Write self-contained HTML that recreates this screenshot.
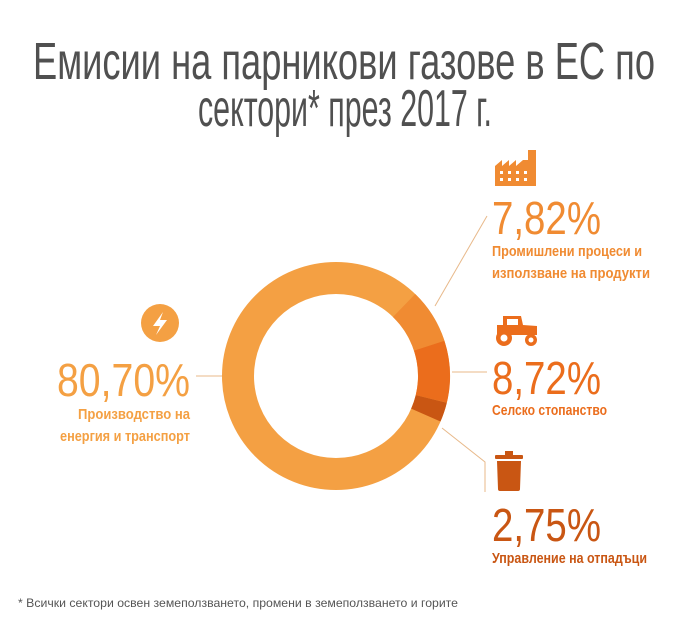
<!DOCTYPE html>
<html><head><meta charset="utf-8"><style>
html,body{margin:0;padding:0;background:#fff;}
svg{display:block;}
text{font-family:"Liberation Sans Narrow","Liberation Sans",sans-serif;}
.l{font-weight:bold;}
</style></head><body>
<svg width="692" height="630" viewBox="0 0 692 630" xmlns="http://www.w3.org/2000/svg">
<rect width="692" height="630" fill="#fff"/>
<text x="33" y="79" font-size="52" fill="#505050" textLength="622" lengthAdjust="spacingAndGlyphs">Емисии на парникови газове в ЕС по</text>
<text x="198" y="126" font-size="52" fill="#505050" textLength="294" lengthAdjust="spacingAndGlyphs">сектори* през 2017 г.</text>

<g fill="none" stroke-width="32" transform="translate(336,376)">
<circle r="98" stroke="#f4a043"/>
<path d="M 68.1 -70.5 A 98 98 0 0 1 93.2 -30.3" stroke="#f08b32"/>
<path d="M 93.2 -30.3 A 98 98 0 0 1 95.3 22.9" stroke="#eb6d1c"/>
<path d="M 95.3 22.9 A 98 98 0 0 1 89.8 39.1" stroke="#c95613"/>
</g>

<g stroke="#e8b98a" stroke-width="1" fill="none">
<line x1="196" y1="376" x2="222" y2="376"/>
<line x1="435" y1="306" x2="487" y2="216"/>
<line x1="452" y1="372" x2="487" y2="372"/>
<polyline points="442,428 485,462 485,492"/>
</g>

<circle cx="160" cy="323" r="19" fill="#f4a043"/>
<path d="M163 312 L153 326 L160 326 L156 335 L167 320 L160 320 Z" fill="#fff"/>
<text x="190" y="396" font-size="46" fill="#f4a043" text-anchor="end" textLength="133" lengthAdjust="spacingAndGlyphs">80,70%</text>
<text class="l" x="190" y="419" font-size="15" fill="#f4a043" text-anchor="end" textLength="112" lengthAdjust="spacingAndGlyphs">Производство на</text>
<text class="l" x="190" y="441" font-size="15" fill="#f4a043" text-anchor="end" textLength="130" lengthAdjust="spacingAndGlyphs">енергия и транспорт</text>

<g fill="#f08b32">
<path d="M495 186 L495 166 L502 160 L502 166 L509 160 L509 166 L516 160 L516 166 L523 160 L528 160 L528 150 L536 150 L536 186 Z"/>
</g>
<g fill="#fff">
<rect x="500" y="171" width="3" height="3"/><rect x="508" y="171" width="3" height="3"/><rect x="516" y="171" width="3" height="3"/><rect x="524" y="171" width="3" height="3"/>
<rect x="500" y="178" width="3" height="3"/><rect x="508" y="178" width="3" height="3"/><rect x="516" y="178" width="3" height="3"/><rect x="524" y="178" width="3" height="3"/>
</g>
<text x="492" y="234" font-size="46" fill="#f08b32" textLength="109" lengthAdjust="spacingAndGlyphs">7,82%</text>
<text class="l" x="492" y="256" font-size="15" fill="#f08b32" textLength="150" lengthAdjust="spacingAndGlyphs">Промишлени процеси и</text>
<text class="l" x="492" y="278" font-size="15" fill="#f08b32" textLength="158" lengthAdjust="spacingAndGlyphs">използване на продукти</text>

<g fill="#eb6d1c">
<path d="M497 333 L497 325 L503 325 L503 316 L521 316 L523 325 L537 326 L537 335 L497 335 Z"/>
<circle cx="504" cy="338" r="8"/><circle cx="531" cy="340" r="6"/>
</g>
<rect x="507" y="319" width="11" height="6" fill="#fff"/>
<circle cx="504" cy="338" r="3.5" fill="#fff"/><circle cx="531" cy="340" r="2.5" fill="#fff"/>
<text x="492" y="394" font-size="46" fill="#eb6d1c" textLength="109" lengthAdjust="spacingAndGlyphs">8,72%</text>
<text class="l" x="492" y="415" font-size="15" fill="#eb6d1c" textLength="115" lengthAdjust="spacingAndGlyphs">Селско стопанство</text>

<g fill="#c95613">
<rect x="495" y="455" width="28" height="4" rx="1"/>
<rect x="505" y="451" width="8" height="4"/>
<path d="M497 461 L521 461 L520 489 Q520 491 518 491 L500 491 Q498 491 498 489 Z"/>
</g>
<text x="492" y="541" font-size="46" fill="#c95613" textLength="109" lengthAdjust="spacingAndGlyphs">2,75%</text>
<text class="l" x="492" y="563" font-size="15" fill="#c95613" textLength="155" lengthAdjust="spacingAndGlyphs">Управление на отпадъци</text>

<text x="18" y="607" font-size="12" fill="#555" textLength="440" lengthAdjust="spacingAndGlyphs">* Всички сектори освен земеползването, промени в земеползването и горите</text>
</svg>
</body></html>
